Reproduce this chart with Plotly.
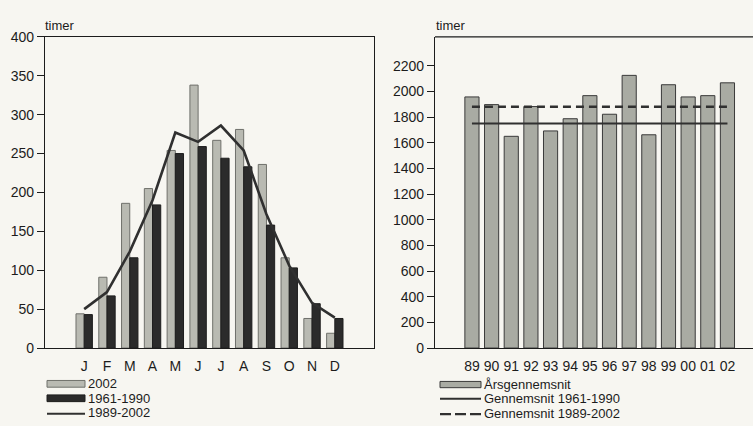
import plotly.graph_objects as go

# Monthly sunshine hours (left panel)
months = ["J", "F", "M", "A", "M", "J", "J", "A", "S", "O", "N", "D"]
sun_2002 = [44, 91, 186, 205, 254, 338, 267, 281, 236, 116, 38, 19]
sun_1961_1990 = [43, 67, 116, 184, 250, 259, 244, 233, 158, 103, 57, 38]
sun_1989_2002 = [50, 72, 124, 190, 277, 265, 286, 254, 172, 106, 58, 39]

# Annual sunshine hours (right panel)
years = ["89", "90", "91", "92", "93", "94", "95", "96", "97", "98", "99", "00", "01", "02"]
annual = [1957, 1897, 1650, 1882, 1692, 1787, 1967, 1822, 2125, 1662, 2052, 1957, 1967, 2067]
mean_1961_1990 = 1750
mean_1989_2002 = 1880

W, H = 753, 426
FONT = "Liberation Sans, Arial, Helvetica, sans-serif"
INK = "#1c1c1c"
PAPER = "#f7f6f1"
LIGHT = "#b9bab2"
DARK = "#2b2b2b"
ANNUAL = "#a9aba3"
FS = 14
LEG_FS = 13


def px(x):
    return x / W


def py(y):
    return 1 - y / H


m_idx = list(range(len(months)))
y_idx = list(range(len(years)))

fig = go.Figure()

# Left panel: monthly bars and 1989-2002 line
fig.add_trace(go.Bar(x=m_idx, y=sun_2002, name="2002", xaxis="x", yaxis="y",
                     marker=dict(color=LIGHT, line=dict(color="#6f706b", width=1))))
fig.add_trace(go.Bar(x=m_idx, y=sun_1961_1990, name="1961-1990", xaxis="x", yaxis="y",
                     marker=dict(color=DARK, line=dict(color="#1e1e1e", width=1))))
fig.add_trace(go.Scatter(x=m_idx, y=sun_1989_2002, name="1989-2002", mode="lines",
                         xaxis="x", yaxis="y", line=dict(color="#303030", width=2.6)))

# Right panel: annual bars and reference means
fig.add_trace(go.Bar(x=y_idx, y=annual, name="Årsgennemsnit", xaxis="x2", yaxis="y2",
                     marker=dict(color=ANNUAL, line=dict(color="#3a3a3a", width=1))))
fig.add_trace(go.Scatter(x=[y_idx[0], y_idx[-1]], y=[mean_1961_1990] * 2,
                         name="Gennemsnit 1961-1990", mode="lines", xaxis="x2", yaxis="y2",
                         line=dict(color="#303030", width=2.2)))
fig.add_trace(go.Scatter(x=[y_idx[0], y_idx[-1]], y=[mean_1989_2002] * 2,
                         name="Gennemsnit 1989-2002", mode="lines", xaxis="x2", yaxis="y2",
                         line=dict(color="#303030", width=2.4, dash="8px,5px")))

axis_font = dict(family=FONT, size=FS, color=INK)

fig.update_layout(
    width=W, height=H,
    margin=dict(l=0, r=0, t=0, b=0),
    paper_bgcolor=PAPER, plot_bgcolor=PAPER,
    showlegend=False,
    barmode="group", bargap=0.28, bargroupgap=0,
    font=axis_font,
    xaxis=dict(domain=[px(45), px(374)], range=[-1.72, 12.72],
               tickvals=m_idx, ticktext=months, showgrid=False, zeroline=False,
               showline=True, linecolor=INK, linewidth=1.3, mirror=True,
               ticks="outside", ticklen=5, tickcolor="rgba(0,0,0,0)",
               tickfont=axis_font, anchor="y", fixedrange=True),
    yaxis=dict(domain=[py(353.3), py(30)], range=[0, 400],
               tickvals=list(range(0, 401, 50)), showgrid=False, zeroline=False,
               showline=True, linecolor=INK, linewidth=1.3, mirror=True,
               ticks="outside", ticklen=7, tickcolor=INK, tickwidth=1.2,
               tickfont=axis_font, anchor="x", fixedrange=True),
    xaxis2=dict(domain=[px(435), 1.0], range=[-1.88, 14.3],
                tickvals=y_idx, ticktext=years, showgrid=False, zeroline=False,
                showline=True, linecolor=INK, linewidth=1.3, mirror=False,
                ticks="outside", ticklen=5, tickcolor="rgba(0,0,0,0)",
                tickfont=axis_font, anchor="y2", fixedrange=True),
    yaxis2=dict(domain=[py(353.3), py(30)], range=[0, 2425],
                tickvals=list(range(0, 2201, 200)), showgrid=False, zeroline=False,
                showline=True, linecolor=INK, linewidth=1.3, mirror=False,
                ticks="outside", ticklen=7, tickcolor=INK, tickwidth=1.2,
                tickfont=axis_font, anchor="x2", fixedrange=True),
)

# Axis unit labels
for x0 in (43, 434):
    fig.add_annotation(text="timer", xref="paper", yref="paper", x=px(x0), y=py(18),
                       xanchor="left", yanchor="middle", showarrow=False,
                       font=dict(family=FONT, size=FS - 1, color=INK))

shapes = []
# top border of the right panel (open on the right side)
shapes.append(dict(type="line", xref="paper", yref="paper", x0=px(435), x1=1.0,
                   y0=py(30), y1=py(30), line=dict(color=INK, width=1.3)))

# Legend keys drawn below each panel
shapes.append(dict(type="rect", xref="paper", yref="paper", x0=px(47), x1=px(85),
                   y0=py(394), y1=py(387), fillcolor=LIGHT, line=dict(color="#6f706b", width=1)))
shapes.append(dict(type="rect", xref="paper", yref="paper", x0=px(47), x1=px(85),
                   y0=py(409), y1=py(402), fillcolor=DARK, line=dict(color="#1e1e1e", width=1)))
shapes.append(dict(type="line", xref="paper", yref="paper", x0=px(47), x1=px(85),
                   y0=py(421.5), y1=py(421.5), line=dict(color="#303030", width=2)))
shapes.append(dict(type="rect", xref="paper", yref="paper", x0=px(440), x1=px(481),
                   y0=py(394.5), y1=py(388), fillcolor=ANNUAL, line=dict(color="#3a3a3a", width=1)))
shapes.append(dict(type="line", xref="paper", yref="paper", x0=px(440), x1=px(481),
                   y0=py(406), y1=py(406), line=dict(color="#303030", width=2)))
shapes.append(dict(type="line", xref="paper", yref="paper", x0=px(440), x1=px(481),
                   y0=py(422), y1=py(422), line=dict(color="#303030", width=2.2, dash="11px,4px")))
fig.update_layout(shapes=shapes)

legend_left = [("2002", 390.5), ("1961-1990", 405.5), ("1989-2002", 420.5)]
legend_right = [("Årsgennemsnit", 391), ("Gennemsnit 1961-1990", 406), ("Gennemsnit 1989-2002", 421)]
for label, yy in legend_left:
    fig.add_annotation(text=label, xref="paper", yref="paper", x=px(87), y=py(yy),
                       xanchor="left", yanchor="middle", showarrow=False, borderpad=0,
                       font=dict(family=FONT, size=LEG_FS, color=INK))
for label, yy in legend_right:
    fig.add_annotation(text=label, xref="paper", yref="paper", x=px(483), y=py(yy),
                       xanchor="left", yanchor="middle", showarrow=False, borderpad=0,
                       font=dict(family=FONT, size=LEG_FS, color=INK))

fig.write_html("out.html")
